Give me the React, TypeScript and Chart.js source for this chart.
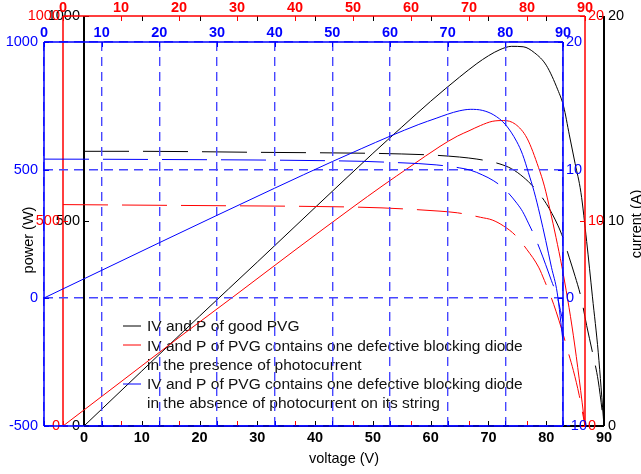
import React, { useEffect, useRef } from 'react';
import { Chart, registerables } from 'chart.js';

Chart.register(...registerables);

const W = 641;
const H = 474;
const FONT = '"Liberation Sans", Arial, Helvetica, sans-serif';
const BLUE = '#0000ff';
const RED = '#ff0000';
const BLACK = '#000000';

// ---------- data ----------
const VOLTAGE = [0, 10, 20, 30, 40, 50, 55, 60, 65, 68, 70, 72, 74, 76, 78, 80, 82, 83, 84, 85, 86, 87, 88, 89, 90];

// good PVG
const GOOD_POWER = [0, 134, 268, 400, 533, 665, 729, 792, 851, 884, 903, 918, 926, 925, 910, 880, 820, 780, 710, 640, 570, 450, 315, 180, 0];
const GOOD_CURRENT = [13.4, 13.4, 13.38, 13.35, 13.33, 13.3, 13.27, 13.22, 13.12, 13.02, 12.92, 12.78, 12.55, 12.15, 11.6, 10.85, 9.8, 9.1, 8.2, 7.3, 6.3, 4.9, 3.6, 2.2, 0];

// defective diode, presence of photocurrent
const PRESENT_POWER = [0, 108, 216, 322, 429, 534, 585, 634, 682, 707, 720, 733, 743, 745, 736, 702, 630, 585, 525, 460, 390, 310, 220, 115, 0];
const PRESENT_CURRENT = [10.8, 10.78, 10.76, 10.74, 10.72, 10.68, 10.64, 10.57, 10.48, 10.4, 10.3, 10.18, 10.05, 9.75, 9.3, 8.6, 7.75, 7.1, 6.4, 5.6, 4.7, 3.7, 2.7, 1.5, 0];

// defective diode, absence of photocurrent
const ABSENT_POWER = [0, 108, 216, 323, 429, 533, 583, 632, 678, 702, 718, 731, 737, 733, 715, 678, 610, 560, 490, 415, 325, 225, 120, 20, -170];
const ABSENT_CURRENT = [10.85, 10.84, 10.82, 10.8, 10.77, 10.72, 10.68, 10.6, 10.5, 10.4, 10.3, 10.17, 9.98, 9.62, 9.15, 8.45, 7.4, 6.75, 5.85, 4.9, 3.8, 2.6, 1.35, 0.1, -1.9];

const X_TICKS = [0, 10, 20, 30, 40, 50, 60, 70, 80, 90];
const BLUE_POWER_TICKS = [-500, 0, 500, 1000];
const BLUE_CURRENT_TICKS = [-10, 0, 10, 20];
const POWER_TICKS = [0, 500, 1000];
const CURRENT_TICKS = [0, 10, 20];

const X_LABEL = 'voltage (V)';
const Y_LABEL_LEFT = 'power (W)';
const Y_LABEL_RIGHT = 'current (A)';
const LEGEND_LABELS = [
  ['IV and P of good PVG'],
  ['IV and P of PVG contains one defective blocking diode', 'in the presence of photocurrent'],
  ['IV and P of PVG contains one defective blocking diode', 'in the absence of photocurrent on its string'],
];
const LEGEND_COLORS = [BLACK, RED, BLUE];

// ---------- layout ----------
type Area = { left: number; top: number; right: number; bottom: number };
type Spec = {
  color: string;
  gridColor: string;
  area: Area;
  xPos: 'top' | 'bottom';
  xPad: number;
  yLPad: number;
  yRPad: number;
  yLTicks: number[];
  yRTicks: number[];
  grid: boolean;
  boxWidth: number;
  sides: { top: boolean; bottom: boolean; left: boolean; right: boolean };
};

const BLUE_SPEC: Spec = {
  color: BLUE,
  gridColor: '#4646ff',
  area: { left: 44, top: 42, right: 563, bottom: 426 },
  xPos: 'top', xPad: 0, yLPad: 6, yRPad: 3,
  yLTicks: BLUE_POWER_TICKS, yRTicks: BLUE_CURRENT_TICKS,
  grid: true, boxWidth: 1.5,
  sides: { top: true, bottom: true, left: true, right: true },
};
const RED_SPEC: Spec = {
  color: RED,
  gridColor: RED,
  area: { left: 63, top: 16, right: 585, bottom: 426 },
  xPos: 'top', xPad: -1, yLPad: 3, yRPad: 3,
  yLTicks: POWER_TICKS, yRTicks: CURRENT_TICKS,
  grid: false, boxWidth: 1.5,
  sides: { top: true, bottom: false, left: true, right: true },
};
const BLACK_SPEC: Spec = {
  color: BLACK,
  gridColor: BLACK,
  area: { left: 84, top: 16, right: 604, bottom: 426 },
  xPos: 'bottom', xPad: 3, yLPad: 4, yRPad: 4,
  yLTicks: POWER_TICKS, yRTicks: CURRENT_TICKS,
  grid: false, boxWidth: 2,
  sides: { top: false, bottom: true, left: true, right: true },
};

const TICK_LEN = 5;
const TICK_FONT = 14.5;
const LEGEND_FONT = 15.5;
const LEGEND_TOP = 326;
const LEGEND_ROW = 19.25;

function framePlugin(id: string, spec: Spec, extra?: (c: any) => void) {
  return {
    id,
    afterDraw(chart: any) {
      const { ctx, chartArea: a, scales } = chart;
      ctx.save();
      ctx.strokeStyle = spec.color;
      ctx.lineWidth = 1;
      ctx.beginPath();
      const xs = scales.x;
      xs.ticks.forEach((_: any, i: number) => {
        const px = Math.round(xs.getPixelForTick(i)) + 0.5;
        ctx.moveTo(px, a.top);
        ctx.lineTo(px, a.top + TICK_LEN);
        ctx.moveTo(px, a.bottom);
        ctx.lineTo(px, a.bottom - TICK_LEN);
      });
      const yl = scales.yL;
      yl.ticks.forEach((_: any, i: number) => {
        const py = Math.round(yl.getPixelForTick(i)) + 0.5;
        ctx.moveTo(a.left, py);
        ctx.lineTo(a.left + TICK_LEN, py);
      });
      const yr = scales.yR;
      yr.ticks.forEach((_: any, i: number) => {
        const py = Math.round(yr.getPixelForTick(i)) + 0.5;
        ctx.moveTo(a.right, py);
        ctx.lineTo(a.right - TICK_LEN, py);
      });
      ctx.stroke();
      ctx.lineWidth = spec.boxWidth;
      ctx.beginPath();
      if (spec.sides.top) { ctx.moveTo(a.left, a.top); ctx.lineTo(a.right, a.top); }
      if (spec.sides.bottom) { ctx.moveTo(a.left, a.bottom); ctx.lineTo(a.right, a.bottom); }
      if (spec.sides.left) { ctx.moveTo(a.left, a.top); ctx.lineTo(a.left, a.bottom); }
      if (spec.sides.right) { ctx.moveTo(a.right, a.top); ctx.lineTo(a.right, a.bottom); }
      ctx.stroke();
      ctx.restore();
      if (extra) extra(chart);
    },
  };
}

function drawAnnotations(chart: any) {
  const ctx = chart.ctx as CanvasRenderingContext2D;
  ctx.save();
  ctx.font = `${LEGEND_FONT}px ${FONT}`;
  ctx.textBaseline = 'middle';
  ctx.textAlign = 'left';
  let row = 0;
  LEGEND_LABELS.forEach((lines, i) => {
    const y0 = Math.round(LEGEND_TOP + row * LEGEND_ROW);
    ctx.strokeStyle = LEGEND_COLORS[i];
    ctx.lineWidth = 1;
    ctx.beginPath();
    ctx.moveTo(123, y0);
    ctx.lineTo(141, y0);
    ctx.stroke();
    ctx.fillStyle = '#111';
    lines.forEach((t, j) => {
      ctx.fillText(t, 147, LEGEND_TOP + (row + j) * LEGEND_ROW + 1);
    });
    row += lines.length;
  });
  ctx.font = `${TICK_FONT}px ${FONT}`;
  ctx.fillStyle = BLACK;
  ctx.textAlign = 'center';
  ctx.fillText(X_LABEL, 344, 459);
  ctx.save();
  ctx.translate(29, 240);
  ctx.rotate(-Math.PI / 2);
  ctx.fillText(Y_LABEL_LEFT, 0, 0);
  ctx.restore();
  ctx.save();
  ctx.translate(637, 224);
  ctx.rotate(-Math.PI / 2);
  ctx.fillText(Y_LABEL_RIGHT, 0, 0);
  ctx.restore();
  ctx.restore();
}

function buildChart(canvas: HTMLCanvasElement, spec: Spec, power: number[], current: number[], id: string, extra?: (c: any) => void) {
  const c = spec.color;
  const gridOpts = spec.grid
    ? { color: spec.gridColor, lineWidth: 1.4, drawTicks: false }
    : { display: false, drawTicks: false };
  const tickFont = { family: FONT, size: TICK_FONT };
  return new Chart(canvas, {
    type: 'line',
    data: {
      datasets: [
        {
          label: 'power',
          data: VOLTAGE.map((v, i) => ({ x: v, y: power[i] })),
          yAxisID: 'yL',
          xAxisID: 'x',
          borderColor: c,
          borderWidth: 1,
          pointRadius: 0,
          fill: false,
          cubicInterpolationMode: 'monotone',
        },
        {
          label: 'current',
          data: VOLTAGE.map((v, i) => ({ x: v, y: current[i] })),
          yAxisID: 'yR',
          xAxisID: 'x',
          borderColor: c,
          borderWidth: 1,
          borderDash: [45, 14],
          pointRadius: 0,
          fill: false,
          cubicInterpolationMode: 'monotone',
        },
      ],
    },
    options: {
      responsive: false,
      animation: false,
      events: [],
      layout: {
        padding: {
          top: spec.xPos === 'top' ? 0 : spec.area.top,
          bottom: spec.xPos === 'top' ? H - spec.area.bottom : 0,
          left: 0,
          right: 0,
        },
      },
      plugins: { legend: { display: false }, tooltip: { enabled: false } },
      scales: {
        x: {
          type: 'linear',
          position: spec.xPos,
          min: X_TICKS[0],
          max: X_TICKS[X_TICKS.length - 1],
          afterBuildTicks: (s: any) => { s.ticks = X_TICKS.map((v) => ({ value: v })); },
          afterFit: (s: any) => { s.height = spec.xPos === 'top' ? spec.area.top : H - spec.area.bottom; },
          ticks: {
            color: c,
            font: { ...tickFont, weight: 'bold' },
            padding: spec.xPad,
            maxRotation: 0,
            autoSkip: false,
            callback: (v: any) => String(v),
          },
          grid: gridOpts,
          border: { display: false, dash: [9, 6] },
        },
        yL: {
          type: 'linear',
          position: 'left',
          min: spec.yLTicks[0],
          max: spec.yLTicks[spec.yLTicks.length - 1],
          afterBuildTicks: (s: any) => { s.ticks = spec.yLTicks.map((v) => ({ value: v })); },
          afterFit: (s: any) => { s.width = spec.area.left; },
          ticks: { color: c, font: tickFont, padding: spec.yLPad, autoSkip: false, callback: (v: any) => String(v) },
          grid: gridOpts,
          border: { display: false, dash: [9, 6] },
        },
        yR: {
          type: 'linear',
          position: 'right',
          min: spec.yRTicks[0],
          max: spec.yRTicks[spec.yRTicks.length - 1],
          afterBuildTicks: (s: any) => { s.ticks = spec.yRTicks.map((v) => ({ value: v })); },
          afterFit: (s: any) => { s.width = W - spec.area.right; },
          ticks: { color: c, font: tickFont, padding: spec.yRPad, autoSkip: false, callback: (v: any) => String(v) },
          grid: { display: false, drawTicks: false },
          border: { display: false },
        },
      },
    } as any,
    plugins: [framePlugin(id, spec, extra)],
  });
}

export default function App() {
  const blackRef = useRef<HTMLCanvasElement>(null);
  const redRef = useRef<HTMLCanvasElement>(null);
  const blueRef = useRef<HTMLCanvasElement>(null);

  useEffect(() => {
    const charts = [
      buildChart(blackRef.current!, BLACK_SPEC, GOOD_POWER, GOOD_CURRENT, 'frameBlack', drawAnnotations),
      buildChart(redRef.current!, RED_SPEC, PRESENT_POWER, PRESENT_CURRENT, 'frameRed'),
      buildChart(blueRef.current!, BLUE_SPEC, ABSENT_POWER, ABSENT_CURRENT, 'frameBlue'),
    ];
    return () => charts.forEach((ch) => ch.destroy());
  }, []);

  const cs: React.CSSProperties = { position: 'absolute', left: 0, top: 0, width: W, height: H };
  return (
    <div style={{ position: 'fixed', left: 0, top: 0, width: W, height: H, background: '#ffffff' }}>
      <canvas ref={blackRef} width={W} height={H} style={cs} />
      <canvas ref={redRef} width={W} height={H} style={cs} />
      <canvas ref={blueRef} width={W} height={H} style={cs} />
    </div>
  );
}
